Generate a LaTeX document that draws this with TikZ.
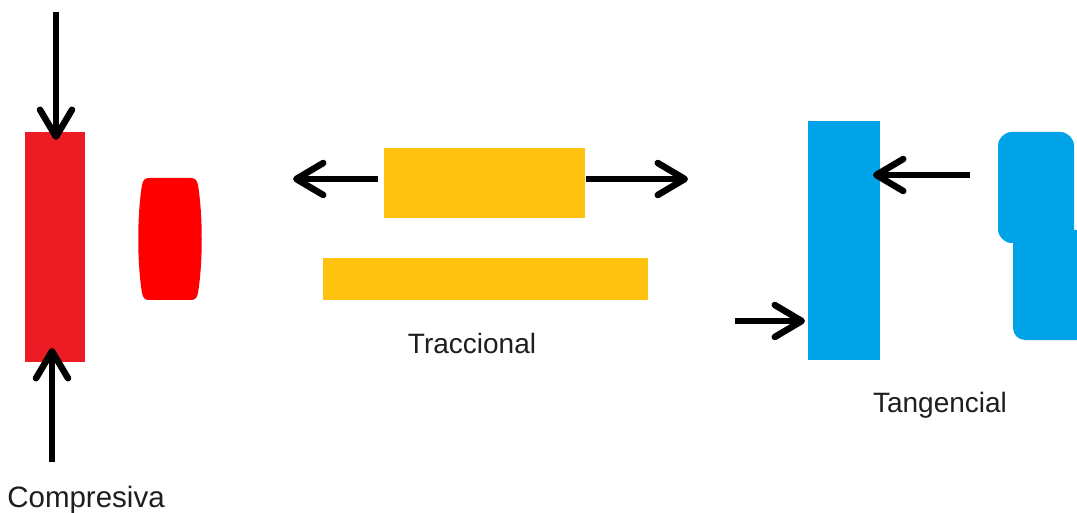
\documentclass[tikz,border=0pt]{standalone}
\usepackage{fontspec}
\setmainfont{Liberation Sans}
\usetikzlibrary{arrows.meta}

\definecolor{barred}{HTML}{ED1C24}
\definecolor{lumpred}{HTML}{FF0000}
\definecolor{pullyellow}{HTML}{FFC20E}
\definecolor{shearblue}{HTML}{00A2E8}
\definecolor{labelgray}{HTML}{1E1E1E}

\tikzset{
  block/.style={inner sep=0pt, outer sep=0pt, draw=none},
  force/.style={line width=6.5pt, black,
    -{Straight Barb[length=27pt, width=32pt, round]}},
  caption/.style={anchor=base, inner sep=0pt, text=labelgray},
}

\begin{document}
\begin{tikzpicture}[x=1pt, y=-1pt]
  \useasboundingbox[fill=white] (0,0) rectangle (1077,513);

  % --- compression ---
  \node[block, fill=barred, minimum width=60pt, minimum height=230pt]
    (redbar) at (55,247) {};
  \coordinate (ctop) at (56,12);
  \coordinate (cbot) at (52,462);
  \draw[force] (ctop) -- ([xshift=1pt, yshift=-8pt]redbar.north);
  \draw[force] (cbot) -- ([xshift=-3pt, yshift=14pt]redbar.south);

  % squashed (bulging) piece
  \fill[lumpred]
    (149,178) -- (191,178)
    .. controls (195,178) and (197,180) .. (198,185)
    .. controls (203,216) and (203,262) .. (198,293)
    .. controls (197,298) and (195,300) .. (191,300)
    -- (149,300)
    .. controls (145,300) and (143,298) .. (142,293)
    .. controls (137,262) and (137,216) .. (142,185)
    .. controls (143,180) and (145,178) .. (149,178) -- cycle;
  \node[caption, font=\fontsize{29.5}{30}\selectfont] (lcomp) at (86,507) {Compresiva};

  % --- tension ---
  \node[block, fill=pullyellow, minimum width=201pt, minimum height=70pt]
    (ybar) at (484.5,183) {};
  \node[block, fill=pullyellow, minimum width=325pt, minimum height=42pt]
    (ylong) at (485.5,279) {};
  \coordinate (tleft) at (293,179);
  \coordinate (tright) at (688,179);
  \draw[force] ([xshift=-6pt, yshift=4pt]ybar.west) -- (tleft);
  \draw[force] ([xshift=1pt, yshift=4pt]ybar.east) -- (tright);
  \node[caption, font=\fontsize{28}{28}\selectfont] (ltrac) at (472,353) {Traccional};

  % --- shear ---
  \node[block, fill=shearblue, minimum width=72pt, minimum height=239pt]
    (bbar) at (844,240.5) {};
  \coordinate (sright) at (970,175);
  \coordinate (sleft) at (735,321);
  \draw[force] (sright) -- ([xshift=-7pt]bbar.north east |- sright);
  \draw[force] (sleft) -- ([xshift=-3pt]bbar.south west |- sleft);

  % sheared piece, cut off by the right border
  \begin{scope}
    \clip (0,0) rectangle (1077,513);
    \fill[shearblue, rounded corners=14pt] (998,132) rectangle (1074,243);
    \fill[shearblue, rounded corners=12pt] (1013,230) rectangle (1095,340);
    \fill[shearblue] (1013,230) rectangle (1074,250);
  \end{scope}
  \node[caption, font=\fontsize{28}{28}\selectfont] (ltang) at (940,412) {Tangencial};
\end{tikzpicture}
\end{document}
